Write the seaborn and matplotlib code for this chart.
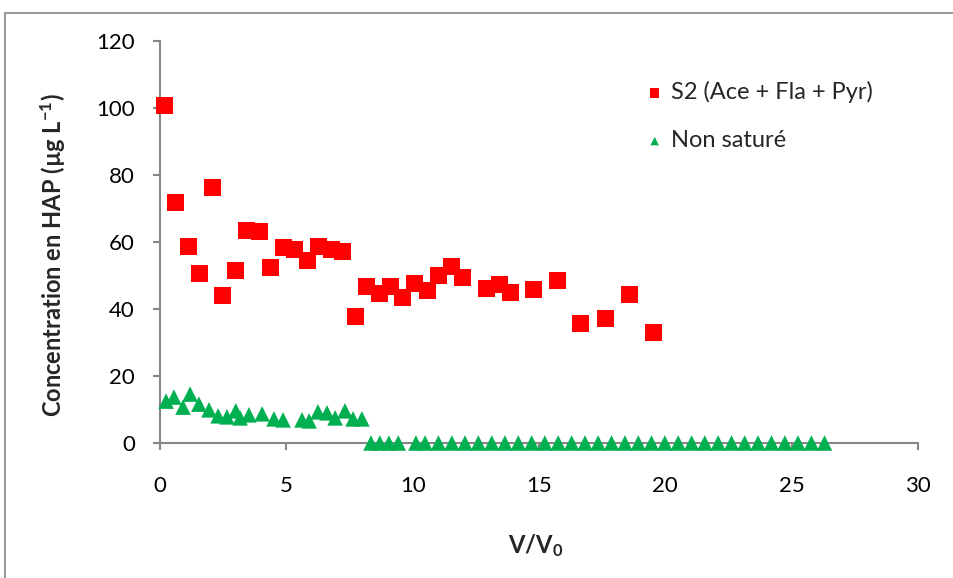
import matplotlib
matplotlib.use("Agg")
import matplotlib.pyplot as plt
import seaborn as sns
import pandas as pd
from matplotlib.patches import Rectangle

# ---- data ----
s2_x = [0.16, 0.63, 1.11, 1.58, 2.06, 2.49, 2.97, 3.44, 3.92, 4.39, 4.87, 5.34,
        5.82, 6.29, 6.77, 7.24, 7.72, 8.19, 8.67, 9.14, 9.60, 10.09, 10.57,
        11.04, 11.52, 11.99, 12.94, 13.42, 13.89, 14.80, 15.75, 16.66, 17.65,
        18.60, 19.55]
s2_y = [100.6, 71.9, 58.8, 50.7, 76.4, 43.9, 51.6, 63.3, 63.0, 52.5, 58.5, 57.9,
        54.6, 58.8, 57.9, 57.3, 37.9, 46.6, 44.5, 46.6, 43.3, 47.5, 45.4,
        50.1, 52.8, 49.3, 46.0, 47.2, 44.8, 45.7, 48.4, 35.8, 37.3,
        44.2, 33.1]

ns_x = [0.24, 0.55, 0.91, 1.19, 1.54, 1.94, 2.30, 2.65, 3.00, 3.17, 3.52, 4.04,
        4.51, 4.87, 5.62, 5.90, 6.25, 6.61, 6.93, 7.32, 7.64, 7.99,
        8.35, 8.70, 9.06, 9.43, 10.13, 10.49, 11.02, 11.55, 12.07, 12.60,
        13.13, 13.65, 14.18, 14.71, 15.23, 15.76, 16.29, 16.82, 17.34, 17.87,
        18.40, 18.93, 19.45, 19.98, 20.51, 21.04, 21.56, 22.09, 22.62, 23.14,
        23.67, 24.20, 24.73, 25.25, 25.78, 26.30]
ns_y = [12.5, 13.7, 10.7, 14.6, 11.6, 9.9, 8.1, 7.8, 9.6, 7.5, 8.4, 8.7,
        7.2, 6.9, 6.9, 6.6, 9.3, 9.0, 7.5, 9.6, 7.2, 7.2,
        0, 0, 0, 0, 0, 0, 0, 0, 0, 0,
        0, 0, 0, 0, 0, 0, 0, 0, 0, 0,
        0, 0, 0, 0, 0, 0, 0, 0, 0, 0,
        0, 0, 0, 0, 0, 0]

label_s2 = "S2 (Ace + Fla + Pyr)"
label_ns = "Non saturé"
x_ticks = [0, 5, 10, 15, 20, 25, 30]
y_ticks = [0, 20, 40, 60, 80, 100, 120]

df_s2 = pd.DataFrame({"x": s2_x, "y": s2_y})
df_ns = pd.DataFrame({"x": ns_x, "y": ns_y})

sns.set_theme(style="white")
plt.rcParams["font.family"] = ["Lato", "DejaVu Sans"]
plt.rcParams["mathtext.fontset"] = "custom"
plt.rcParams["mathtext.rm"] = "Lato"
plt.rcParams["mathtext.bf"] = "Lato:bold"
plt.rcParams["mathtext.it"] = "Lato:italic"

W, H = 954, 578
fig = plt.figure(figsize=(W / 100, H / 100), dpi=100)
fig.patch.set_facecolor("white")
L, R, B, T = 160, 918, 443, 41
ax = fig.add_axes([L / W, 1 - B / H, (R - L) / W, (B - T) / H])

red = "#FF0000"
green = "#00B050"
sns.scatterplot(data=df_s2, x="x", y="y", marker="s", s=150, color=red,
                edgecolor="none", linewidth=0, ax=ax, label=label_s2,
                clip_on=False, zorder=3)
sns.scatterplot(data=df_ns, x="x", y="y", marker="^", s=125, color=green,
                edgecolor="none", linewidth=0, ax=ax, label=label_ns,
                clip_on=False, zorder=3)

ax.set_xlim(0, 30)
ax.set_ylim(0, 120)
ax.set_xticks(x_ticks)
ax.set_yticks(y_ticks)
ax.set_xticklabels([str(v) for v in x_ticks])
ax.set_yticklabels([str(v) for v in y_ticks])

gray = "#868686"
for side in ["top", "right"]:
    ax.spines[side].set_visible(False)
for side in ["left", "bottom"]:
    ax.spines[side].set_color(gray)
    ax.spines[side].set_linewidth(1.5)
ax.tick_params(axis="both", which="major", direction="out", color=gray,
               width=1.5, length=5, labelsize=16, labelcolor="black")
ax.tick_params(axis="x", pad=19, bottom=True)
ax.tick_params(axis="y", pad=13, left=True)
ax.grid(False)

ax.set_xlabel(r"V/V$_\mathbf{0}$", fontsize=17, fontweight="bold")
ax.set_ylabel(r"Concentration en HAP (µg L$^{\mathbf{-1}}$)", fontsize=17,
              fontweight="bold")
ax.xaxis.set_label_coords(0.495, -0.222)
ax.yaxis.set_label_coords(-0.123, 0.468)

leg = ax.legend(loc="upper left", bbox_to_anchor=((647 - L) / (R - L), (B - 81) / (B - T)),
                frameon=False, fontsize=17, handlelength=0.65, handletextpad=0.35,
                labelspacing=1.15, borderpad=0, borderaxespad=0, markerscale=0.55)

# outer chart border
fig.patches.append(Rectangle((5.5 / W, -0.05), 1.2, (H - 12.5) / H + 0.05,
                             transform=fig.transFigure, fill=False,
                             edgecolor=gray, linewidth=1.2, clip_on=False))

fig.savefig("out.png", dpi=100, facecolor="white")
